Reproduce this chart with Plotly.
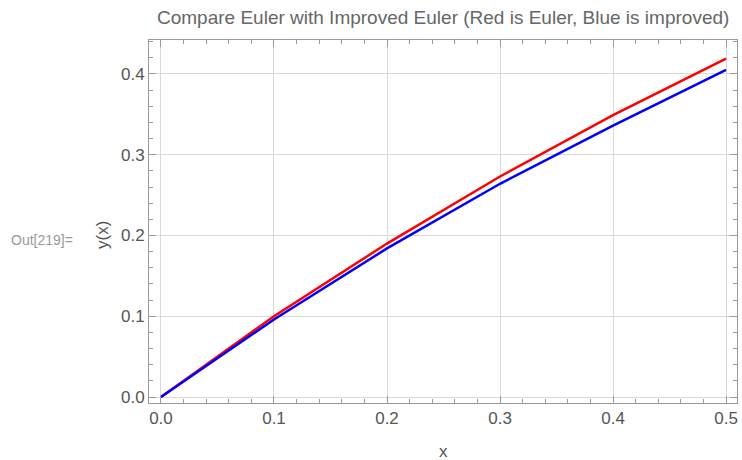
import plotly.graph_objects as go

x_vals = [0.0, 0.1, 0.2, 0.3, 0.4, 0.5]
euler = [0.0, 0.1, 0.19, 0.273, 0.349, 0.419]
improved = [0.0, 0.096, 0.184, 0.264, 0.336, 0.405]
x_ticks = [0.0, 0.1, 0.2, 0.3, 0.4, 0.5]
y_ticks = [0.0, 0.1, 0.2, 0.3, 0.4]

title = "Compare Euler with Improved Euler (Red is Euler, Blue is improved)"

fig = go.Figure()
fig.add_trace(go.Scatter(x=x_vals, y=euler, mode="lines", line=dict(color="#ff0000", width=2.5), showlegend=False))
fig.add_trace(go.Scatter(x=x_vals, y=improved, mode="lines", line=dict(color="#0000ff", width=2.5), showlegend=False))

axis_common = dict(
    showline=True, linecolor="#9a9a9a", linewidth=1, mirror="ticks",
    ticks="inside", ticklen=7, tickcolor="#9a9a9a", tickwidth=1,
    showgrid=True, gridcolor="#d9d9d9", gridwidth=1, zeroline=False,
    tickfont=dict(family="Liberation Sans, Arial", size=17, color="#555555"),
    tickformat=".1f",
    minor=dict(ticks="inside", ticklen=4, tickcolor="#9a9a9a", dtick=0.02, showgrid=False),
)

fig.update_xaxes(range=[-0.0106, 0.5097], tickvals=x_ticks, **axis_common)
fig.update_yaxes(range=[-0.0074, 0.442], tickvals=y_ticks, **axis_common)

fig.update_layout(
    width=742, height=460,
    margin=dict(l=149, r=5, t=40, b=57),
    paper_bgcolor="white", plot_bgcolor="white",
    font=dict(family="Liberation Sans, Arial", color="#555555"),
    annotations=[
        dict(text=title, xref="paper", yref="paper", x=0.5, y=1, yshift=23, showarrow=False,
             font=dict(size=19, color="#666666"), xanchor="center", yanchor="middle"),
        dict(text="x", xref="paper", yref="paper", x=0.5, y=0, yshift=-48, showarrow=False,
             font=dict(size=17, color="#555555"), xanchor="center", yanchor="middle"),
        dict(text="y(x)", xref="paper", yref="paper", x=(102 - 149) / 588, y=(403 - 235) / 363,
             textangle=-90, showarrow=False, font=dict(size=17, color="#555555"),
             xanchor="center", yanchor="middle"),
        dict(text="Out[219]=", xref="paper", yref="paper", x=(75 - 149) / 588, y=(403 - 240) / 363,
             showarrow=False, font=dict(size=14, color="#999999"), xanchor="right", yanchor="middle"),
    ],
)

fig.write_html("out.html")
